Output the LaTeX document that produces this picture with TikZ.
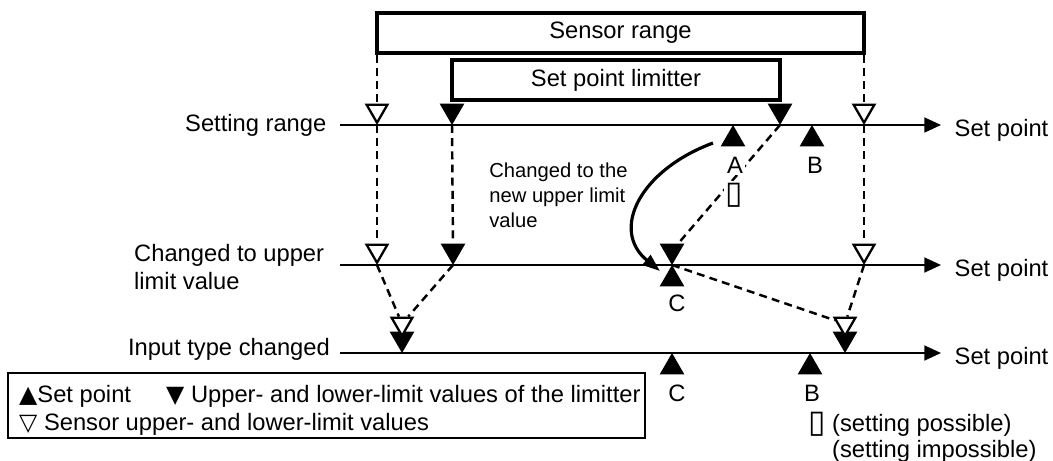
\documentclass[tikz,border=0pt]{standalone}
\usepackage{fontspec}
\setmainfont{Liberation Sans}
\newfontfamily\dejavu{DejaVu Sans}
\usetikzlibrary{arrows.meta, shapes.geometric, positioning}

\tikzset{
  rangebox/.style={draw, line width=2pt, minimum height=0.8cm, inner sep=0pt},
  axisline/.style={line width=1.1pt, -{Triangle[length=9.5pt,width=8.5pt]}},
  tri/.style={regular polygon, regular polygon sides=3, minimum size=0.48cm,
    inner sep=0pt, draw, line width=1.3pt, anchor=corner 1},
  sensormk/.style={tri, rotate=180, fill=white},
  limitmk/.style={tri, rotate=180, fill=black},
  setmk/.style={tri, fill=black},
  limline/.style={line width=1.4pt, dash pattern=on 4.5pt off 3pt},
  ptlabel/.style={fill=white, inner sep=1pt},
}

\begin{document}
\begin{tikzpicture}[x=0.02cm, y=-0.02cm, font=\fontsize{13.5}{16}\selectfont]
\useasboundingbox (0,0) rectangle (1053,460);

% ranges
\node[rangebox, minimum width=9.74cm] (sensor) at (620.5,33) {Sensor range};
\node[rangebox, minimum width=6.56cm] (limitter) at (616,80) {Set point limitter};

% the three set point scales
\coordinate (r1s) at (340,125); \coordinate (r1e) at (941,125);
\coordinate (r2s) at (340,265); \coordinate (r2e) at (941,265);
\coordinate (r3s) at (340,353); \coordinate (r3e) at (941,353);
\foreach \r in {1,2,3} {
  \draw[axisline] (r\r s) -- (r\r e);
  \node[right=0.15cm of r\r e, yshift=-0.1cm] (sp\r) {Set point};
}
\node[left=0.15cm of r1s] (lbl1) {Setting range};
\node[align=left, anchor=west] (lbl2) at (128,267) {Changed to upper\\limit value};
\node[anchor=base east] (lbl3) at (336,355) {Input type changed};

% markers, first scale
\node[sensormk] (s1L) at (377,125) {};
\node[sensormk] (s1R) at (864,125) {};
\node[limitmk] (l1L) at (452,125) {};
\node[limitmk] (l1R) at (780,125) {};
\node[setmk] (a1) at (733,125) {};
\node[setmk] (b1) at (812,125) {};
% second scale
\node[sensormk] (s2L) at (377,265) {};
\node[sensormk] (s2R) at (864,265) {};
\node[limitmk] (l2L) at (453,265) {};
\node[limitmk] (l2R) at (672,265) {};
\node[setmk] (c2) at (672,265) {};
% third scale
\node[limitmk] (l3L) at (402,353) {};
\node[sensormk] (s3L) at (402,338) {};
\node[limitmk] (l3R) at (845,353) {};
\node[sensormk] (s3R) at (845,338) {};
\node[setmk] (c3) at (672,353) {};
\node[setmk] (b3) at (810,353) {};

% dashed transfers
\draw[limline] (sensor.south west -| s1L) -- (s1L);
\draw[limline] (sensor.south east -| s1R) -- (s1R);
\draw[limline] (s1L.corner 1) -- (s2L);
\draw[limline] (l1L.corner 1) -- (l2L);
\draw[limline] (l1R.corner 1) -- (l2R);
\draw[limline] (s1R.corner 1) -- (s2R);
\draw[limline] (s2L.corner 1) -- (s3L);
\draw[limline] (l2L.corner 1) -- (s3L);
\draw[limline] (c2.corner 1) -- (s3R);
\draw[limline] (s2R.corner 1) -- (s3R);

% point labels
\node[ptlabel] (alab) at (735,165) {A};
\node[ptlabel] (amark) at (734,195) {\dejavu\fontsize{18}{18}\selectfont ▯};
\node (blab) at (815,165) {B};
\node (clab2) at (677,303) {C};
\node (clab3) at (677,393) {C};
\node (blab3) at (812,393) {B};
\node (bmark) at (817,424) {\dejavu\fontsize{18}{18}\selectfont ▯};
\node[anchor=west] (poss) at (826,425) {(setting possible)};
\node[anchor=west] (imposs) at (826,451) {(setting impossible)};

% change to new upper limit
\node[align=left, anchor=north west, inner sep=0pt,
  font=\fontsize{11.5}{14.2}\selectfont] (note) at (489,163)
  {Changed to the\\new upper limit\\value};
\coordinate (cvs) at (713,143);
\coordinate (cve) at (660,271);
\draw[line width=1.8pt, -{Triangle[length=10pt,width=7pt]}]
  (cvs) .. controls (640,170) and (610,230) .. (cve);

% legend
\draw[line width=0.8pt] (8,373) rectangle (645,438);
\node[anchor=west] (leg1) at (13,396) {{\dejavu ▲}Set point};
\node[anchor=west] (leg2) at (160,396) {{\dejavu ▼} Upper- and lower-limit values of the limitter};
\node[anchor=west] (leg3) at (13,424) {{\dejavu\bfseries ▽} Sensor upper- and lower-limit values};
\end{tikzpicture}
\end{document}
